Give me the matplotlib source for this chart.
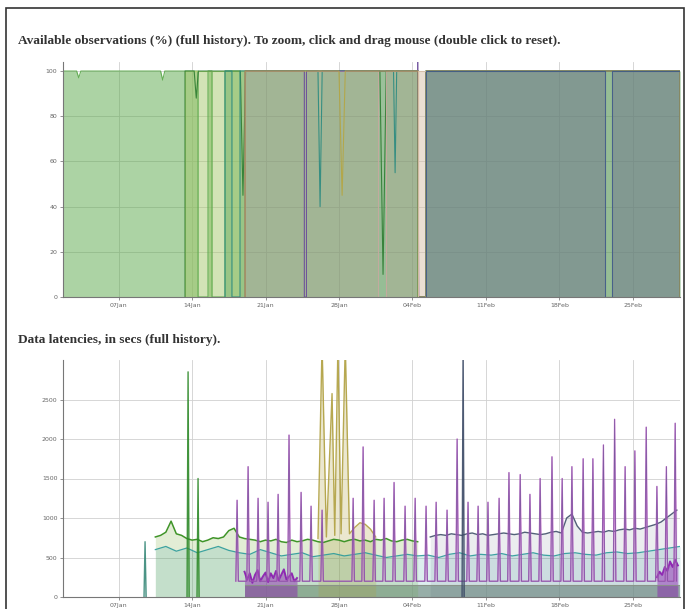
import numpy as np
import matplotlib
matplotlib.use('Agg')
import matplotlib.pyplot as plt
import matplotlib.dates as mdates
from matplotlib.patches import Rectangle

# time axis: days counted from START
START = np.datetime64('2013-01-01T16:48')
SPAN = 58.8

TITLE_AVAIL = ('Available observations (%) (full history). To zoom, click and drag '
               'mouse (double click to reset).')
TITLE_LAT = 'Data latencies, in secs (full history).'

avail_ticks = [0, 20, 40, 60, 80, 100]
latency_ticks = [0, 500, 1000, 1500, 2000, 2500]

# ---- availability (%) per feed, break points (day, value) ----
green_av_days = [0, 1.3, 1.5, 1.7, 9.3, 9.5, 9.7, 12.87, 12.87, 13.82, 13.82, 14.2, 14.2,
                 15.44, 15.44, 33.84, 33.84, 34.6, 34.6, 58.8]
green_av_vals = [100, 100, 97, 100, 100, 96, 100, 100, 0, 0, 100, 100, 0,
                 0, 100, 100, 0, 0, 100, 100]

yellow_av_days = [11.63, 11.63, 17.35, 17.35]
yellow_av_vals = [0, 100, 100, 0]

dkgreen_av_days = [11.63, 11.63, 12.5, 12.7, 12.9, 16.9, 17.15, 17.4, 30.2, 30.5, 30.8,
                   33.84, 33.84, 34.6, 34.6, 58.8, 58.8]
dkgreen_av_vals = [0, 100, 100, 88, 100, 100, 45, 100, 100, 10, 100,
                   100, 0, 0, 100, 100, 0]

teal_av_days = [15.44, 15.44, 16.1, 16.1, 16.87, 16.87, 24.3, 24.5, 24.7, 31.5, 31.65, 31.8,
                33.84, 33.84, 34.6, 34.6, 58.8, 58.8]
teal_av_vals = [0, 100, 100, 0, 0, 100, 100, 40, 100, 100, 55, 100,
                100, 0, 0, 100, 100, 0]

mauve_av_days = [17.35, 17.35, 30.03, 30.03, 30.8, 30.8, 33.84, 33.84, 34.6, 34.6,
                 51.67, 51.67, 52.34, 52.34, 58.8, 58.8]
mauve_av_vals = [0, 100, 100, 0, 0, 100, 100, 0, 0, 100, 100, 0, 0, 100, 100, 0]

purple_av_days = [17.35, 17.35, 23.0, 23.0, 23.2, 23.2, 33.8, 33.8, 33.9, 34.6, 34.6, 58.8, 58.8]
purple_av_vals = [0, 100, 100, 0, 0, 100, 100, 106, 0, 0, 100, 100, 0]

olive_av_days = [17.35, 17.35, 26.3, 26.6, 26.9, 33.84, 33.84, 34.6, 34.6, 58.8, 58.8]
olive_av_vals = [0, 100, 100, 45, 100, 100, 0, 0, 100, 100, 0]

pink_av_days = [33.84, 33.84, 34.6, 34.6]
pink_av_vals = [0, 100, 100, 0]

slate_av_days = [34.6, 34.6, 51.67, 51.67, 52.34, 52.34, 58.8]
slate_av_vals = [0, 100, 100, 0, 0, 100, 100]

# ---- latencies (secs) ----
# green feed, sampled every half day from day 8.8
green_lat_start = 8.8
green_lat_vals = [760, 780, 820, 960, 800, 780, 740, 720, 730, 700, 720, 750, 740, 760, 840,
                  870, 760, 740, 730, 720, 700, 720, 710, 730, 700, 690, 720, 700, 710, 730,
                  720, 700, 690, 710, 730, 720, 700, 720, 730, 710, 720, 700, 730, 720, 740,
                  710, 700, 720, 730, 710, 700]

# teal feed, sampled daily from day 8.8
teal_lat_start = 8.8
teal_lat_vals = [600, 640, 580, 620, 560, 600, 640, 590, 560, 540, 600, 560, 520, 540, 560,
                 510, 530, 550, 520, 540, 560, 530, 500, 520, 540, 520, 530, 500, 540, 560,
                 520, 540, 530, 550, 520, 540, 560, 530, 520, 550, 560, 540, 530, 560, 570,
                 550, 560, 580, 600, 620, 640]

# slate feed, sampled every half day from day 35
slate_lat_start = 35.0
slate_lat_vals = [760, 780, 790, 780, 800, 790, 780, 800, 810, 790, 800, 780, 790, 800, 810,
                  800, 790, 800, 820, 810, 800, 790, 800, 820, 830, 810, 1000, 1050, 900, 820,
                  810, 820, 830, 820, 840, 830, 850, 860, 850, 870, 860, 880, 900, 920, 950,
                  1000, 1050, 1100]

olive_lat_days = [24.3, 24.69, 25.1, 25.64, 25.9, 26.2, 26.5, 26.9, 27.3, 27.8, 28.3, 28.8,
                  29.3, 29.8]
olive_lat_vals = [740, 3200, 760, 2575, 780, 3200, 800, 3200, 800, 880, 940, 920, 860, 760]

purple_lat_days = [17.3, 17.55, 17.8, 18.05, 18.3, 18.55, 18.8, 19.05, 19.3, 19.55, 19.8,
                   20.05, 20.3, 20.55, 20.8, 21.05, 21.3, 21.55, 21.8, 22.05, 22.3]
purple_lat_vals = [320, 220, 300, 180, 280, 340, 200, 260, 310, 190, 300, 240, 330, 210,
                   280, 350, 220, 260, 300, 200, 240]
purple2_lat_days = [56.6, 56.85, 57.1, 57.35, 57.6, 57.85, 58.1, 58.35, 58.6]
purple2_lat_vals = [250, 320, 280, 380, 330, 450, 380, 470, 400]

gray_lat_days = [17.3, 33.84, 34.6, 58.8]
gray_lat_vals = [150, 150, 150, 150]

# daily report spikes (magenta feed)
spike_days = [16.59, 17.64, 18.59, 19.54, 20.5, 21.54, 22.69, 23.64, 24.69, 27.65, 28.6,
              29.65, 30.6, 31.55, 32.6, 33.56, 34.6, 35.56, 36.6, 37.56, 38.6, 39.56, 40.5,
              41.56, 42.5, 43.57, 44.5, 45.47, 46.6, 47.57, 48.5, 49.57, 50.5, 51.5, 52.57,
              53.57, 54.5, 55.58, 56.6, 57.5, 58.34]
spike_vals = [1225, 1650, 1250, 1200, 1300, 2050, 1325, 1150, 1100, 1250, 1900,
              1225, 1250, 1450, 1150, 1250, 1150, 1200, 1100, 2000, 1200, 1150, 1200,
              1250, 1575, 1550, 1300, 1500, 1775, 1500, 1650, 1750, 1750, 1925, 2250,
              1650, 1850, 2150, 1400, 1650, 2200]
spike_base = 200

# single outliers from other feeds
extra_spike_days = [7.82, 11.92, 12.87, 38.13]
extra_spike_vals = [700, 2850, 1500, 3200]
extra_spike_colors = ['#3a8a7a', '#2f8a2a', '#2f8a2a', '#3c4a66']


def to_dt(days):
    secs = np.round(np.asarray(days, dtype=float) * 86400).astype('timedelta64[s]')
    return START + secs


def area(ax, days, vals, color, alpha, lw=0.8, line_alpha=0.9, base=0):
    x = to_dt(days)
    ax.fill_between(x, base, vals, color=color, alpha=alpha, lw=0)
    ax.plot(x, vals, color=color, lw=lw, alpha=line_alpha)


def style_axis(ax, yticks, ylim):
    ax.set_xlim(to_dt([0, SPAN]))
    ax.set_ylim(ylim)
    ax.set_yticks(yticks)
    ax.xaxis.set_major_locator(mdates.WeekdayLocator(byweekday=mdates.MO))
    ax.xaxis.set_major_formatter(mdates.DateFormatter('%d%b'))
    ax.grid(True, color='#d0d0d0', lw=0.6)
    ax.set_axisbelow(True)
    for side in ['top', 'right']:
        ax.spines[side].set_visible(False)
    for side in ['left', 'bottom']:
        ax.spines[side].set_color('#777777')
        ax.spines[side].set_linewidth(0.8)
    ax.tick_params(labelsize=4.5, colors='#666666', length=2, width=0.5, pad=2)


fig = plt.figure(figsize=(6.88, 6.09), dpi=100)
fig.patches.append(Rectangle((6 / 688, -0.01), 678 / 688, 1 - 8 / 609 + 0.01,
                             transform=fig.transFigure, fill=False,
                             edgecolor='#333333', lw=1.2))

fig.text(18 / 688, 1 - 41 / 609, TITLE_AVAIL, family='Liberation Serif', fontsize=9.6,
         weight='bold', color='#333333', va='center')
fig.text(18 / 688, 1 - 340 / 609, TITLE_LAT, family='Liberation Serif', fontsize=9.6,
         weight='bold', color='#333333', va='center')

# ---- availability chart ----
ax1 = fig.add_axes([63 / 688, 1 - 297 / 609, 617 / 688, 235 / 609])
area(ax1, green_av_days, green_av_vals, '#5aa84a', 0.5)
area(ax1, yellow_av_days, yellow_av_vals, '#b0d070', 0.45)
area(ax1, dkgreen_av_days, dkgreen_av_vals, '#2e7d32', 0.05)
area(ax1, teal_av_days, teal_av_vals, '#2a8a80', 0.1)
area(ax1, mauve_av_days, mauve_av_vals, '#c8a8a0', 0.3)
area(ax1, purple_av_days, purple_av_vals, '#6a4a9a', 0.06)
area(ax1, olive_av_days, olive_av_vals, '#b5a642', 0.05)
area(ax1, pink_av_days, pink_av_vals, '#d8c0a8', 0.5)
area(ax1, slate_av_days, slate_av_vals, '#3a5a88', 0.3)
style_axis(ax1, avail_ticks, (0, 104))

# ---- latency chart ----
ax2 = fig.add_axes([63 / 688, 1 - 597 / 609, 617 / 688, 237 / 609])
green_lat_days = green_lat_start + 0.5 * np.arange(len(green_lat_vals))
teal_lat_days = teal_lat_start + 1.0 * np.arange(len(teal_lat_vals))
slate_lat_days = slate_lat_start + 0.5 * np.arange(len(slate_lat_vals))

area(ax2, gray_lat_days, gray_lat_vals, '#8a9288', 0.7)
area(ax2, green_lat_days, green_lat_vals, '#7fb040', 0.22, lw=0)
ax2.plot(to_dt(green_lat_days), green_lat_vals, color='#3f9428', lw=1.1)
area(ax2, teal_lat_days, teal_lat_vals, '#2a9a9a', 0.16, lw=0.9)
area(ax2, slate_lat_days, slate_lat_vals, '#40506a', 0.1, lw=1.0)
area(ax2, olive_lat_days, olive_lat_vals, '#b0a040', 0.25, lw=1.0)
area(ax2, purple_lat_days, purple_lat_vals, '#8a1ab0', 0.45, lw=1.4)
area(ax2, purple2_lat_days, purple2_lat_vals, '#8a1ab0', 0.45, lw=1.4)

# spikes: each one rises from the base line to its peak and back
sx, sy = [], []
for d, v in zip(spike_days, spike_vals):
    sx += [d - 0.12, d, d + 0.12]
    sy += [spike_base, v, spike_base]
area(ax2, sx, sy, '#c060c8', 0.2, lw=1.0, base=spike_base)
ax2.plot(to_dt(sx), sy, color='#4a4a80', lw=0.5, alpha=0.6)

for d, v, c in zip(extra_spike_days, extra_spike_vals, extra_spike_colors):
    area(ax2, [d - 0.1, d, d + 0.1], [0, v, 0], c, 0.2, lw=1.0)

style_axis(ax2, latency_ticks, (0, 3000))

fig.savefig('out.png', dpi=100)
